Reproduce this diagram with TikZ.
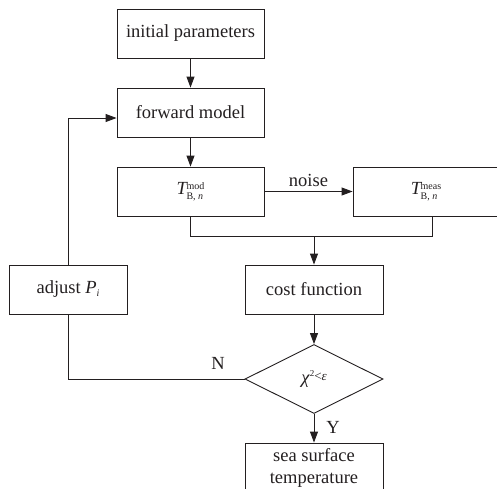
\documentclass[tikz,border=0pt]{standalone}
\usepackage{fontspec}
\setmainfont{Liberation Serif}
\usetikzlibrary{arrows.meta,shapes.geometric}
\definecolor{ink}{HTML}{231F20}
\newcommand{\scripts}[2]{\raisebox{-5pt}{\fontsize{10}{9.5}\selectfont\shortstack[l]{#1\\#2}}}
\tikzset{
  box/.style={draw=ink, line width=0.9pt, rectangle, inner sep=0pt, align=center, text=ink,
    font=\fontsize{18.5}{22}\selectfont},
  decide/.style={draw=ink, line width=0.9pt, diamond, inner sep=0pt, text=ink,
    minimum width=138pt, minimum height=69pt, aspect=2, font=\fontsize{18.5}{20}\selectfont},
  lbl/.style={text=ink, inner sep=0pt, font=\fontsize{18.5}{22}\selectfont},
  conn/.style={draw=ink, line width=0.9pt},
  arr/.style={conn, -{Triangle[length=11pt,width=8pt]}}
}
\begin{document}
\begin{tikzpicture}[x=1pt,y=-1pt]
\useasboundingbox (0,0) rectangle (497,488);
\clip (0,0) rectangle (497,488);
\node[box, minimum width=147pt, minimum height=49pt] (init) at (190.5,33.5) {initial parameters};
\node[box, minimum width=147pt, minimum height=49pt] (fwd) at (190.5,112.5) {forward model};
\node[box, minimum width=147pt, minimum height=49pt] (tmod) at (190.5,191.5)
  {\textit{T}\kern-1.5pt\scripts{mod}{B, \textit{n}}};
\node[box, minimum width=146pt, minimum height=49pt] (tmeas) at (426,191.5)
  {\textit{T}\kern-1.5pt\scripts{meas}{B, \textit{n}}};
\node[box, minimum width=138pt, minimum height=49pt] (cost) at (314,289.5) {cost function};
\node[box, minimum width=118pt, minimum height=49pt] (adj) at (68,289.5) {adjust \textit{P}\raisebox{-3pt}{\fontsize{10}{10}\selectfont\textit{i}}};
\node[decide] (dec) at (314,379) {\textit{χ}\raisebox{7pt}{\fontsize{9}{9}\selectfont 2}\raisebox{3pt}{\fontsize{13}{13}\selectfont<\textit{ε}}};
\node[box, minimum width=138pt, minimum height=50pt] (sea) at (314,468) {sea surface\\temperature};

\coordinate (jm) at (190.5,236);
\coordinate (jr) at (432,236);
\coordinate (jc) at (314,236);
\coordinate (adjup) at (68,118);
\coordinate (adjdn) at (68,379);

\draw[arr] (init) -- (fwd);
\draw[arr] (fwd) -- (tmod);
\draw[arr] (tmod.east |- 0,191.5) -- node[lbl, above=4pt] {noise} (tmeas.west |- 0,191.5);
\draw[conn] (tmod.south) -- (jm) -- (jr) -- (tmeas.south -| jr);
\draw[arr] (jc) -- (cost.north);
\draw[arr] (cost) -- (dec);
\draw[arr] (dec) -- (sea);
\draw[arr] (adj.north) -- (adjup) -- (fwd.west |- adjup);
\draw[conn] (adj.south) -- (adjdn) -- (dec.west);
\node[lbl] (nlab) at (218,363) {N};
\node[lbl] (ylab) at (333,427) {Y};
\end{tikzpicture}
\end{document}
